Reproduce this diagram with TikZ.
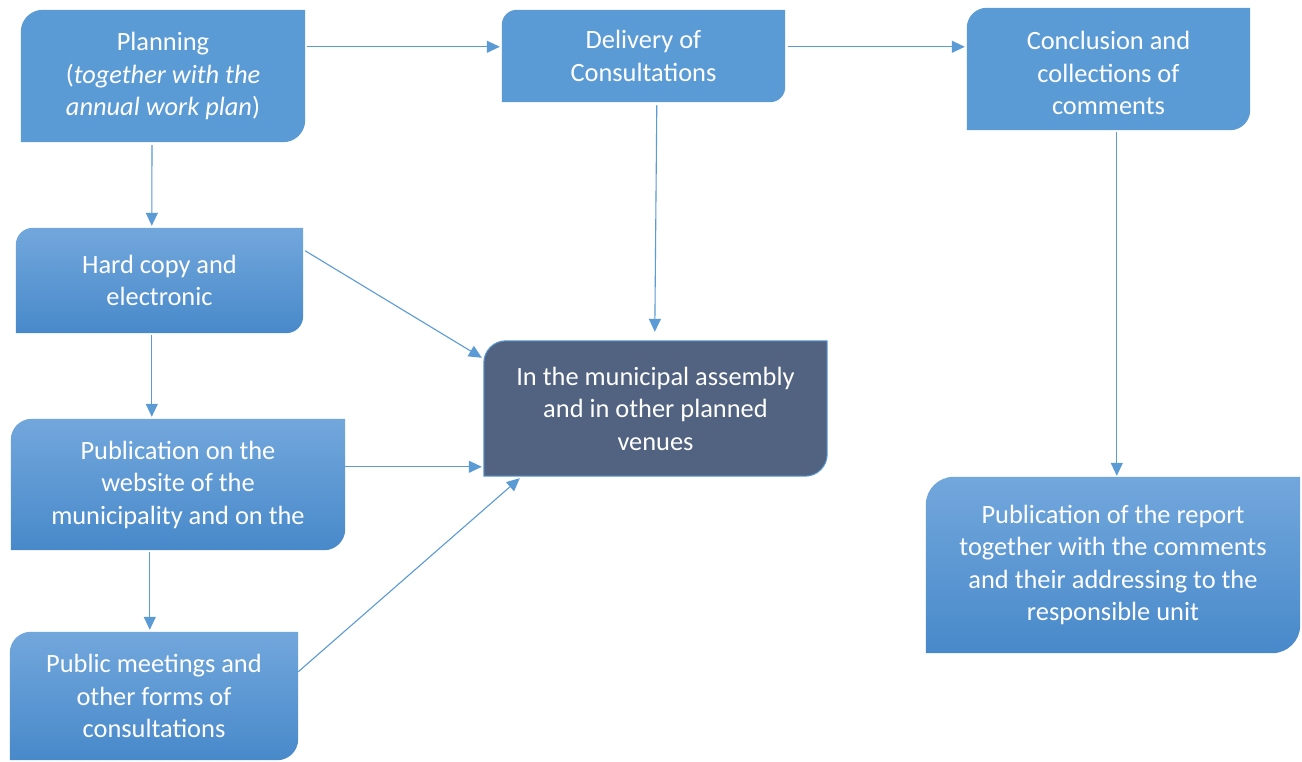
\documentclass[tikz,border=0pt]{standalone}
\usepackage{fontspec}
\setmainfont{Carlito}
\usetikzlibrary{calc,arrows.meta,backgrounds}
\definecolor{flowblue}{RGB}{91,155,213}
\definecolor{gradtop}{RGB}{114,167,220}
\definecolor{gradbot}{RGB}{72,137,202}
\definecolor{slate}{RGB}{81,99,128}
\tikzset{
  box/.style={inner sep=0pt, text=white, align=center,
    font=\fontsize{26.4}{32.5}\selectfont},
  arr/.style={draw=flowblue, line width=1.1pt,
    -{Triangle[length=13pt,width=12pt]}},
}
% box outline: top-left and bottom-right corners rounded
\newcommand{\tlbrpath}[2]{%
  ($(#1.south west)$) -- ($(#1.north west)+(0,-#2)$)
  arc[start angle=180,end angle=90,radius=#2]
  -- (#1.north east) -- ($(#1.south east)+(0,#2)$)
  arc[start angle=0,end angle=-90,radius=#2] -- cycle}
\begin{document}
\begin{tikzpicture}[x=1pt,y=1pt]
\useasboundingbox (0,0) rectangle (1302,761);

% nodes (centre in page pixels, y measured from the bottom)
\node[box, minimum width=284pt, minimum height=132pt] (plan) at (163,685)
  {Planning\\(\textit{together with the}\\\textit{annual work plan})};
\node[box, minimum width=283pt, minimum height=92pt] (dlv) at (643.5,705)
  {Delivery of\\Consultations};
\node[box, minimum width=283pt, minimum height=122pt] (concl) at (1108.5,692)
  {};
\node[box] (concltext) at ($(concl)+(0,-4)$)
  {Conclusion and\\collections of\\comments};
\node[box, minimum width=287pt, minimum height=105pt] (hard) at (159.5,480.5)
  {Hard copy and\\electronic};
\node[box, minimum width=334pt, minimum height=131pt] (web) at (178,276.5)
  {Publication on the\\website of the\\municipality and on the};
\node[box, minimum width=288pt, minimum height=128pt] (meet) at (154,65)
  {Public meetings and\\other forms of\\consultations};
\node[box, minimum width=343pt, minimum height=135pt] (asm) at (655.5,352.5)
  {In the municipal assembly\\and in other planned\\venues};
\node[box, minimum width=374pt, minimum height=176pt] (rep) at (1113,196)
  {Publication of the report\\together with the comments\\and their addressing to the\\responsible unit};

% page and box bodies behind the texts
\begin{scope}[on background layer]
  \fill[white] (0,0) rectangle (1302,761);
  \fill[flowblue] \tlbrpath{plan}{22};
  \fill[flowblue] \tlbrpath{dlv}{15};
  \fill[flowblue] \tlbrpath{concl}{20};
  \shade[top color=gradtop, bottom color=gradbot] \tlbrpath{hard}{17};
  \shade[top color=gradtop, bottom color=gradbot] \tlbrpath{web}{21};
  \shade[top color=gradtop, bottom color=gradbot] \tlbrpath{meet}{21};
  \shade[top color=gradtop, bottom color=gradbot] \tlbrpath{rep}{28};
  \filldraw[fill=slate, draw=flowblue, line width=1pt] \tlbrpath{asm}{22};
\end{scope}

% connectors
\draw[arr] ($(plan.north east)+(2,-37)$) -- ($(dlv.north west)+(-2,-37)$);
\draw[arr] ($(dlv.north east)+(3,-37)$) -- ($(concl.north west)+(-2,-39)$);
\draw[arr] ($(plan.south)+(-11,-3)$) -- ($(hard.north west)+(136,2)$);
\draw[arr] ($(hard.south west)+(136,-2)$) -- ($(web.north west)+(141,2)$);
\draw[arr] ($(web.south west)+(139,-2)$) -- ($(meet.north west)+(140,2)$);
\draw[arr] ($(dlv.south west)+(155,-3)$) -- ($(asm.north west)+(171,9)$);
\draw[arr] ($(hard.north east)+(2,-23)$) -- ($(asm.north west)+(-2,-17)$);
\draw[arr] ($(web.north east)+(0,-48)$) -- ($(asm.north west)+(-2,-126)$);
\draw[arr] ($(meet.north east)+(0,-40)$) -- ($(asm.south west)+(36,-2)$);
\draw[arr] ($(concl.south west)+(150,-2)$) -- ($(rep.north west)+(191,1)$);
\end{tikzpicture}
\end{document}
